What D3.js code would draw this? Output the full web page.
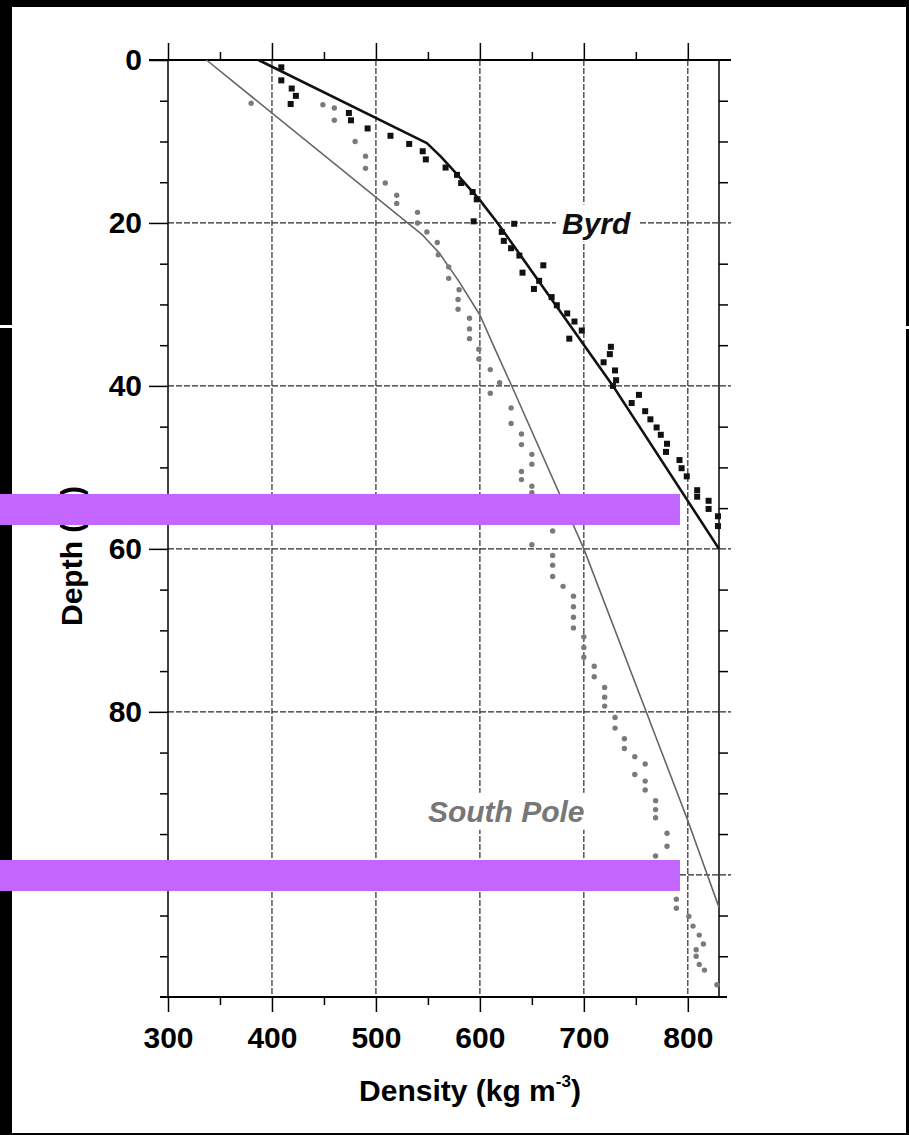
<!DOCTYPE html>
<html>
<head>
<meta charset="utf-8">
<script src="https://cdn.jsdelivr.net/npm/d3@7"></script>
<style>
body { margin: 0; background: #000; }
text { font-family: "Liberation Sans", Arial, sans-serif; }
</style>
</head>
<body>
<svg width="909" height="1135"></svg>
<script>
// axis ticks
var densityTicks = [300, 400, 500, 600, 700, 800];
var densityMinor = [350, 450, 550, 650, 750];
var depthTicks = [0, 20, 40, 60, 80, 100];
var depthMinor = [5, 10, 15, 25, 30, 35, 45, 50, 55, 65, 70, 75, 85, 90, 95, 105, 110];

// Byrd measurements (black squares)
var byrdDensity = [409, 409, 419, 423, 418, 474, 476, 492, 514, 532, 545, 548, 567, 578, 582, 593, 597, 594, 633, 621,
  623, 630, 638, 661, 641, 657, 652, 669, 674, 684, 691, 698, 686, 726, 725, 719, 730, 731, 728, 753,
  746, 759, 764, 770, 774, 780, 779, 792, 794, 799, 809, 809, 820, 820, 829, 829];
var byrdDepth = [0.9, 2.5, 3.5, 4.4, 5.4, 6.5, 7.4, 8.4, 9.3, 10.3, 11.2, 12.2, 13.2, 14.1, 15.1, 16.2, 17.1, 19.8, 20.1, 21.1,
  22.2, 23.1, 24.0, 25.2, 26.1, 27.1, 28.1, 29.1, 30.1, 31.1, 32.1, 33.2, 34.2, 35.2, 36.1, 37.1, 38.1, 39.3, 40.0, 41.1,
  42.1, 43.1, 44.1, 45.1, 46.0, 47.1, 48.1, 49.1, 50.1, 51.1, 52.8, 53.6, 54.1, 55.1, 56.0, 57.2];

// South Pole measurements (grey dots)
var poleDensity = [380, 449, 460, 460, 480, 490, 490, 509, 520, 520, 540, 540, 549, 559, 560, 570, 570, 580, 579, 579,
  590, 590, 590, 599, 599, 610, 619, 610, 630, 630, 640, 640, 650, 650, 640, 640, 650, 650, 660, 660,
  670, 650, 670, 670, 670, 680, 690, 690, 690, 690, 700, 700, 700, 710, 710, 720, 720, 720, 730, 730,
  739, 739, 749, 759, 749, 759, 759, 769, 769, 769, 780, 780, 769, 780, 785, 789, 789, 801, 805, 811,
  815, 808, 808, 811, 816, 828];
var poleDepth = [5.3, 5.5, 5.9, 7.4, 10.0, 11.8, 13.3, 15.1, 16.6, 17.6, 18.7, 20.0, 21.1, 22.4, 23.9, 25.4, 26.8, 28.2, 29.4, 30.6,
  31.7, 33.0, 34.2, 35.5, 36.7, 38.0, 39.6, 40.9, 42.7, 44.6, 45.9, 47.2, 48.4, 49.6, 50.5, 51.5, 52.3, 53.1, 54.5, 56.0,
  57.8, 59.5, 60.8, 62.0, 63.4, 64.6, 65.8, 67.1, 68.4, 69.7, 70.8, 72.1, 73.3, 74.4, 75.7, 77.0, 78.2, 79.3, 80.7, 82.0,
  83.3, 84.5, 85.5, 86.4, 87.7, 88.5, 89.6, 90.9, 92.0, 93.0, 94.9, 96.5, 97.7, 99.5, 101.5, 103.0, 104.1, 105.1, 106.3, 107.4,
  108.5, 109.2, 110.0, 111.0, 111.7, 113.5];

// model curves
var byrdModelDensity = [387, 549, 562, 575, 600, 617, 728, 830];
var byrdModelDepth = [0, 10.2, 11.8, 13.6, 17.2, 20, 40, 60];
var poleModelDensity = [337, 545, 561, 580, 600, 615, 631, 700, 760, 799, 830];
var poleModelDepth = [0, 21.5, 23.7, 27.2, 31.3, 35.6, 40.1, 60, 80, 93, 104];

var svg = d3.select("svg");
var x = d3.scaleLinear().domain([300, 830]).range([168, 719]);
var y = d3.scaleLinear().domain([0, 115]).range([60, 997]);

// black frame with white page
svg.append("rect").attr("width", 909).attr("height", 1135).attr("fill", "#000");
svg.append("rect").attr("x", 12).attr("y", 7).attr("width", 894).attr("height", 1126).attr("fill", "#fff");
svg.append("rect").attr("x", 0).attr("y", 325).attr("width", 12).attr("height", 3).attr("fill", "#fff");
svg.append("rect").attr("x", 906).attr("y", 326).attr("width", 3).attr("height", 3).attr("fill", "#fff");

var g = svg.append("g");

// dashed grid
g.append("g").selectAll("line")
  .data(densityTicks.slice(1))
  .enter().append("line")
  .attr("x1", d => x(d)).attr("x2", d => x(d))
  .attr("y1", y(0)).attr("y2", y(115))
  .attr("stroke", "#2a2a2a").attr("stroke-width", 1.2).attr("stroke-dasharray", "6,2");

g.append("g").selectAll("line")
  .data(depthTicks.slice(1))
  .enter().append("line")
  .attr("x1", x(300)).attr("x2", x(830) + 12)
  .attr("y1", d => y(d)).attr("y2", d => y(d))
  .attr("stroke", "#2a2a2a").attr("stroke-width", 1.2).attr("stroke-dasharray", "6,2");

// axes
function styleAxis(sel) {
  sel.select(".domain").remove();
  sel.selectAll(".tick line").attr("stroke", "#000").attr("stroke-width", 1.5);
  sel.selectAll("text").attr("fill", "#000").attr("font-size", 30).attr("font-weight", "bold")
    .style("font-family", "'Liberation Sans', Arial, sans-serif");
}

g.append("g").attr("transform", "translate(0," + y(0) + ")")
  .call(d3.axisTop(x).tickValues(densityTicks).tickSize(17).tickFormat(""))
  .call(styleAxis);
g.append("g").attr("transform", "translate(0," + y(0) + ")")
  .call(d3.axisTop(x).tickValues(densityMinor).tickSize(8).tickFormat(""))
  .call(styleAxis);
g.append("g").attr("transform", "translate(0," + y(115) + ")")
  .call(d3.axisBottom(x).tickValues(densityTicks).tickSize(15).tickPadding(15).tickFormat(d3.format("d")))
  .call(styleAxis);
g.append("g").attr("transform", "translate(0," + y(115) + ")")
  .call(d3.axisBottom(x).tickValues(densityMinor).tickSize(8).tickFormat(""))
  .call(styleAxis);

g.append("g").attr("transform", "translate(" + x(300) + ",0)")
  .call(d3.axisLeft(y).tickValues(depthTicks).tickSize(19).tickPadding(7).tickFormat(d3.format("d")))
  .call(styleAxis);
g.append("g").attr("transform", "translate(" + x(300) + ",0)")
  .call(d3.axisLeft(y).tickValues(depthMinor).tickSize(8).tickFormat(""))
  .call(styleAxis);
g.append("g").attr("transform", "translate(" + x(830) + ",0)")
  .call(d3.axisRight(y).tickValues(depthMinor).tickSize(9).tickFormat(""))
  .call(styleAxis);

// frame lines
g.append("line").attr("x1", x(300) - 19).attr("x2", x(830) + 12).attr("y1", y(0)).attr("y2", y(0))
  .attr("stroke", "#000").attr("stroke-width", 1.8);
g.append("line").attr("x1", x(300) - 8).attr("x2", x(830) + 8).attr("y1", y(115)).attr("y2", y(115))
  .attr("stroke", "#000").attr("stroke-width", 1.8);
g.append("line").attr("x1", x(300)).attr("x2", x(300)).attr("y1", y(0)).attr("y2", y(115))
  .attr("stroke", "#000").attr("stroke-width", 1.5);
g.append("line").attr("x1", x(830)).attr("x2", x(830)).attr("y1", y(0)).attr("y2", y(115))
  .attr("stroke", "#000").attr("stroke-width", 1.5);

// series labels with white backing
function label(txt, dx, dy, color) {
  var t = g.append("text").attr("x", x(dx)).attr("y", y(dy))
    .attr("font-size", 30).attr("font-weight", "bold").attr("font-style", "italic")
    .attr("fill", color).text(txt);
  var b = t.node().getBBox();
  g.insert("rect", function () { return t.node(); })
    .attr("x", b.x - 6).attr("y", b.y - 2).attr("width", b.width + 14).attr("height", b.height + 4)
    .attr("fill", "#fff");
}
label("Byrd", 679, 21.3, "#111");
label("South Pole", 550, 93.5, "#777");

// model lines
var line = d3.line().x(d => x(d[0])).y(d => y(d[1]));
g.append("path").datum(d3.zip(poleModelDensity, poleModelDepth))
  .attr("d", line).attr("fill", "none").attr("stroke", "#666").attr("stroke-width", 1.6)
  .attr("stroke-linejoin", "round");
g.append("path").datum(d3.zip(byrdModelDensity, byrdModelDepth))
  .attr("d", line).attr("fill", "none").attr("stroke", "#111").attr("stroke-width", 2.6)
  .attr("stroke-linejoin", "round");

// points
g.append("g").selectAll("circle")
  .data(d3.zip(poleDensity, poleDepth))
  .enter().append("circle")
  .attr("cx", d => x(d[0])).attr("cy", d => y(d[1])).attr("r", 2.7)
  .attr("fill", "#7a7a7a");

g.append("g").selectAll("rect")
  .data(d3.zip(byrdDensity, byrdDepth))
  .enter().append("rect")
  .attr("x", d => x(d[0]) - 3).attr("y", d => y(d[1]) - 3).attr("width", 6).attr("height", 6)
  .attr("fill", "#111");

// axis titles
var xt = g.append("text").attr("x", 470).attr("y", 1101).attr("text-anchor", "middle")
  .attr("font-size", 30).attr("font-weight", "bold");
xt.append("tspan").text("Density (kg m");
xt.append("tspan").attr("font-size", 17).attr("dy", -14).text("-3");
xt.append("tspan").attr("dy", 14).text(")");

g.append("text").attr("transform", "translate(82,556) rotate(-90)").attr("text-anchor", "middle")
  .attr("font-size", 30).attr("font-weight", "bold").text("Depth (m)");

// purple overlay bars
svg.append("rect").attr("x", 0).attr("y", 494).attr("width", 680).attr("height", 31).attr("fill", "#c266ff");
svg.append("rect").attr("x", 0).attr("y", 860).attr("width", 680).attr("height", 31).attr("fill", "#c266ff");
</script>
</body>
</html>
